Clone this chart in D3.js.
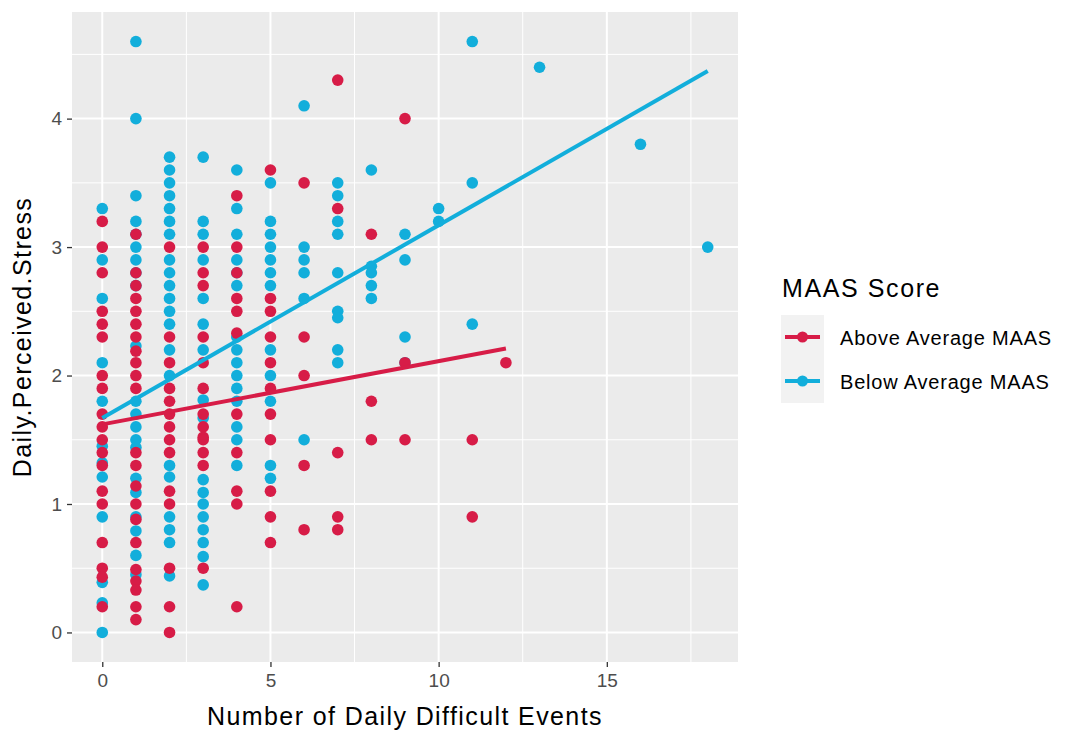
<!DOCTYPE html>
<html>
<head>
<meta charset="utf-8">
<script src="https://cdn.jsdelivr.net/npm/d3@7"></script>
<style>
  body { margin: 0; background: #fff; }
  svg { display: block; font-family: "Liberation Sans", Arial, Helvetica, sans-serif; }
</style>
</head>
<body>
<div id="chart"></div>
<script>
// stress scores, grouped by number of daily difficult events
const aboveAverage = [
    [0, [3.2, 3.0, 2.8, 2.5, 2.4, 2.3, 2.0, 1.9, 1.7, 1.6, 1.5, 1.4, 1.3, 1.1, 1.0, 0.7, 0.5, 0.43, 0.2]],
    [1, [3.1, 2.8, 2.7, 2.6, 2.5, 2.4, 2.3, 2.19, 2.1, 2.0, 1.9, 1.4, 1.3, 1.14, 1.0, 0.88, 0.7, 0.49, 0.4, 0.33, 0.2, 0.1]],
    [2, [3.0, 2.3, 2.1, 1.9, 1.8, 1.7, 1.6, 1.5, 1.4, 1.1, 1.0, 0.5, 0.2, 0.0]],
    [3, [3.0, 2.8, 2.7, 2.3, 2.1, 1.9, 1.7, 1.6, 1.52, 1.5, 1.4, 1.3, 0.5]],
    [4, [3.4, 3.0, 2.8, 2.6, 2.5, 2.33, 1.7, 1.4, 1.1, 1.0, 0.2]],
    [5, [3.6, 2.6, 2.5, 2.3, 2.1, 1.9, 1.7, 1.5, 1.1, 0.9, 0.7]],
    [6, [3.5, 2.3, 2.0, 1.3, 0.8]],
    [7, [4.3, 3.3, 1.4, 0.9, 0.8]],
    [8, [3.1, 1.8, 1.5]],
    [9, [4.0, 2.1, 1.5]],
    [11, [1.5, 0.9]],
    [12, [2.1]]
];

const belowAverage = [
    [0, [3.3, 2.9, 2.6, 2.1, 1.8, 1.45, 1.32, 1.21, 0.9, 0.39, 0.23, 0.0]],
    [1, [4.6, 4.0, 3.4, 3.2, 3.1, 3.0, 2.9, 2.8, 2.7, 2.23, 1.8, 1.7, 1.6, 1.5, 1.44, 1.2, 1.09, 0.9, 0.79, 0.6, 0.45]],
    [2, [3.7, 3.6, 3.5, 3.4, 3.3, 3.2, 3.1, 2.9, 2.8, 2.7, 2.6, 2.5, 2.4, 2.2, 2.0, 1.3, 1.21, 0.9, 0.8, 0.7, 0.44]],
    [3, [3.7, 3.2, 3.1, 2.9, 2.6, 2.4, 2.2, 1.81, 1.67, 1.19, 1.09, 1.0, 0.9, 0.8, 0.7, 0.59, 0.37]],
    [4, [3.6, 3.3, 3.1, 2.9, 2.8, 2.7, 2.3, 2.2, 2.1, 2.0, 1.9, 1.8, 1.6, 1.5, 1.3]],
    [5, [3.5, 3.2, 3.1, 3.0, 2.9, 2.8, 2.7, 2.2, 2.0, 1.8, 1.3, 1.2]],
    [6, [4.1, 3.0, 2.9, 2.8, 2.6, 1.5]],
    [7, [3.5, 3.4, 3.2, 3.1, 2.8, 2.5, 2.45, 2.2, 2.1]],
    [8, [3.6, 2.85, 2.8, 2.7, 2.6]],
    [9, [3.1, 2.9, 2.3, 2.1]],
    [10, [3.3, 3.2]],
    [11, [4.6, 3.5, 2.4]],
    [13, [4.4]],
    [16, [3.8]],
    [18, [3.0]]
];

// fitted lines: [x start, x end], [y start, y end]
const aboveFitX = [0, 12];
const aboveFitY = [1.62, 2.21];
const belowFitX = [0, 18];
const belowFitY = [1.67, 4.37];

const xTicks = [0, 5, 10, 15];
const xMinor = [2.5, 7.5, 12.5, 17.5];
const yTicks = [0, 1, 2, 3, 4];
const yMinor = [0.5, 1.5, 2.5, 3.5, 4.5];

const seriesNames = ['Above Average MAAS', 'Below Average MAAS'];
const colors = ['#d71c47', '#12aedb'];

const flatten = groups => groups.flatMap(([x, ys]) => ys.map(y => ({ x, y })));

const width = 1065, height = 730;
const panel = { left: 72, right: 738, top: 12, bottom: 662 };

const svg = d3.select('#chart').append('svg')
    .attr('width', width)
    .attr('height', height);

const x = d3.scaleLinear().domain([-0.9, 18.9]).range([panel.left, panel.right]);
const y = d3.scaleLinear().domain([-0.23, 4.83]).range([panel.bottom, panel.top]);

// panel background + grid
svg.append('rect')
    .attr('x', panel.left).attr('y', panel.top)
    .attr('width', panel.right - panel.left)
    .attr('height', panel.bottom - panel.top)
    .attr('fill', '#ebebeb');

const grid = svg.append('g');
grid.selectAll('.xminor').data(xMinor).enter().append('line')
    .attr('x1', d => x(d)).attr('x2', d => x(d))
    .attr('y1', panel.top).attr('y2', panel.bottom)
    .attr('stroke', '#fff').attr('stroke-width', 1);
grid.selectAll('.yminor').data(yMinor).enter().append('line')
    .attr('y1', d => y(d)).attr('y2', d => y(d))
    .attr('x1', panel.left).attr('x2', panel.right)
    .attr('stroke', '#fff').attr('stroke-width', 1);
grid.selectAll('.xmajor').data(xTicks).enter().append('line')
    .attr('x1', d => x(d)).attr('x2', d => x(d))
    .attr('y1', panel.top).attr('y2', panel.bottom)
    .attr('stroke', '#fff').attr('stroke-width', 2);
grid.selectAll('.ymajor').data(yTicks).enter().append('line')
    .attr('y1', d => y(d)).attr('y2', d => y(d))
    .attr('x1', panel.left).attr('x2', panel.right)
    .attr('stroke', '#fff').attr('stroke-width', 2);

// points
const pointSets = [flatten(belowAverage), flatten(aboveAverage)];
const pointColors = [colors[1], colors[0]];
pointSets.forEach((pts, i) => {
    svg.append('g').selectAll('circle')
        .data(pts)
        .enter().append('circle')
        .attr('cx', d => x(d.x))
        .attr('cy', d => y(d.y))
        .attr('r', 5.8)
        .attr('fill', pointColors[i]);
});

// fit lines
const line = d3.line().x(d => x(d[0])).y(d => y(d[1]));
[[aboveFitX, aboveFitY, colors[0]], [belowFitX, belowFitY, colors[1]]].forEach(([fx, fy, c]) => {
    svg.append('path')
        .datum(fx.map((v, i) => [v, fy[i]]))
        .attr('fill', 'none')
        .attr('stroke', c)
        .attr('stroke-width', 4)
        .attr('d', line);
});

// axes
const xAxis = svg.append('g')
    .attr('transform', `translate(0, ${panel.bottom})`)
    .call(d3.axisBottom(x).tickValues(xTicks).tickFormat(d3.format('d')).tickSize(5).tickPadding(7));
const yAxis = svg.append('g')
    .attr('transform', `translate(${panel.left}, 0)`)
    .call(d3.axisLeft(y).tickValues(yTicks).tickFormat(d3.format('d')).tickSize(5).tickPadding(5));
[xAxis, yAxis].forEach(a => {
    a.select('.domain').remove();
    a.selectAll('line').attr('stroke', '#333').attr('stroke-width', 1.3);
    a.selectAll('text')
        .attr('fill', '#4d4d4d')
        .style('font-size', '19px')
        .style('font-family', '"Liberation Sans", Arial, sans-serif');
});

svg.append('text')
    .attr('x', (panel.left + panel.right) / 2)
    .attr('y', 725)
    .attr('text-anchor', 'middle')
    .style('font-size', '25px')
    .style('letter-spacing', '1.4px')
    .attr('fill', '#000')
    .text('Number of Daily Difficult Events');

svg.append('text')
    .attr('transform', `translate(31, ${(panel.top + panel.bottom) / 2}) rotate(-90)`)
    .attr('text-anchor', 'middle')
    .style('font-size', '25px')
    .style('letter-spacing', '1.4px')
    .attr('fill', '#000')
    .text('Daily.Perceived.Stress');

// legend
const legend = svg.append('g');
legend.append('text')
    .attr('x', 782).attr('y', 297)
    .style('font-size', '25px')
    .style('letter-spacing', '1.6px')
    .text('MAAS Score');
legend.append('rect')
    .attr('x', 781).attr('y', 315)
    .attr('width', 43).attr('height', 88)
    .attr('fill', '#f2f2f2');
const keyY = [337, 381];
seriesNames.forEach((name, i) => {
    legend.append('line')
        .attr('x1', 785).attr('x2', 820)
        .attr('y1', keyY[i]).attr('y2', keyY[i])
        .attr('stroke', colors[i]).attr('stroke-width', 4);
    legend.append('circle')
        .attr('cx', 802.5).attr('cy', keyY[i]).attr('r', 5.5)
        .attr('fill', colors[i]);
    legend.append('text')
        .attr('x', 840).attr('y', keyY[i] + 8)
        .style('font-size', '20px')
        .style('letter-spacing', '0.8px')
        .text(name);
});
</script>
</body>
</html>
